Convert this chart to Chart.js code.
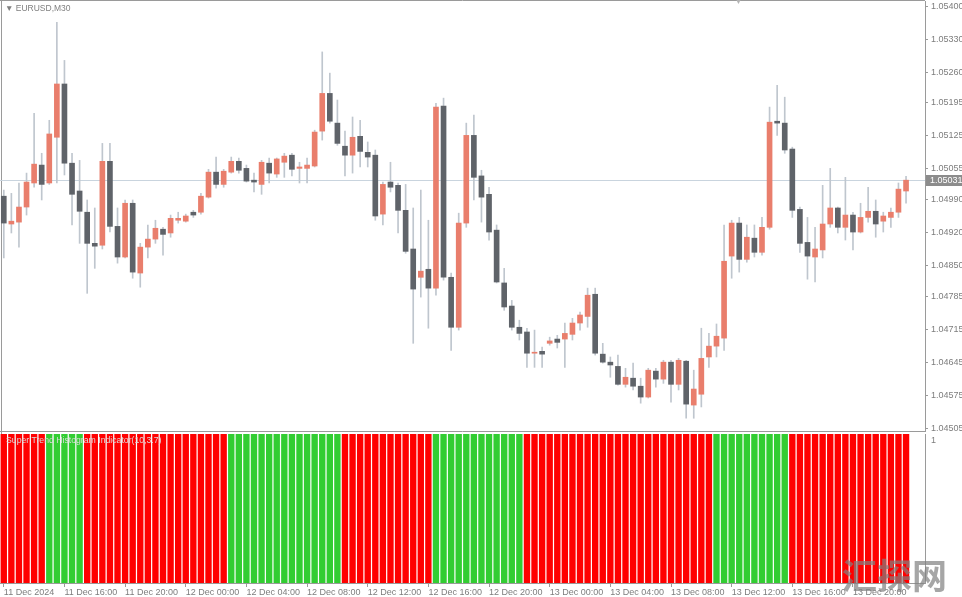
<!DOCTYPE html>
<html>
<head>
<meta charset="utf-8">
<script src="https://cdn.jsdelivr.net/npm/chart.js@4.4.1/dist/chart.umd.min.js"></script>
<style>
  html, body { margin: 0; padding: 0; background: #fff; }
  #wrap { position: relative; width: 962px; height: 597px; overflow: hidden; background: #fff; }
  #main { position: absolute; left: 0; top: 0; }
  #sub { position: absolute; left: 0; top: 432px; }
  .txt { position: absolute; font-family: "Liberation Sans", Arial, sans-serif; white-space: nowrap; line-height: 1; }
  #symbol { left: 5px; top: 4px; font-size: 8.5px; color: #7f7f7f; }
  #shift { left: 735px; top: -2px; font-size: 7px; color: #b4b4b4; }
  #indname { left: 6px; top: 436px; font-size: 8.7px; color: #dcdcdc; }
  #mark { left: 842px; top: 556px; font-family: "Noto Sans CJK SC", sans-serif; font-weight: bold; font-size: 35px; color: rgba(128,128,128,0.7); }
</style>
</head>
<body>
<div id="wrap">
  <canvas id="main" width="962" height="432"></canvas>
  <canvas id="sub" width="962" height="165"></canvas>
  <div class="txt" id="symbol">▼ EURUSD,M30</div>
  <div class="txt" id="shift">▼</div>
  <div class="txt" id="indname">Super Trend Histogram Indicator(10,3.7)</div>
  <div class="txt" id="mark">汇探网</div>
</div>
<script>
// EURUSD M30, 11 Dec 12:00 .. 13 Dec 23:30
const priceTicks = [1.05400, 1.05330, 1.05260, 1.05195, 1.05125, 1.05055, 1.04990,
  1.04920, 1.04850, 1.04785, 1.04715, 1.04645, 1.04575, 1.04505];

const timeLabels = ['11 Dec 2024', '11 Dec 16:00', '11 Dec 20:00', '12 Dec 00:00',
  '12 Dec 04:00', '12 Dec 08:00', '12 Dec 12:00', '12 Dec 16:00', '12 Dec 20:00',
  '13 Dec 00:00', '13 Dec 04:00', '13 Dec 08:00', '13 Dec 12:00', '13 Dec 16:00', '13 Dec 20:00'];

const open = [
  1.04997, 1.04938, 1.04942, 1.04974, 1.05025, 1.05063, 1.05025, 1.05122, 1.05235, 1.05067,
  1.05008, 1.04963, 1.04897, 1.04893, 1.05071, 1.04933, 1.04868, 1.04982, 1.04834, 1.04889,
  1.04906, 1.04927, 1.04919, 1.04946, 1.04944, 1.04963, 1.04963, 1.04995, 1.05048, 1.05022,
  1.05048, 1.05071, 1.05056, 1.05031, 1.05022, 1.05067, 1.05044, 1.05069, 1.05084, 1.05056,
  1.05056, 1.05061, 1.05135, 1.05215, 1.05152, 1.05103, 1.05084, 1.05124, 1.05090, 1.05084,
  1.04959, 1.05027, 1.05020, 1.04967, 1.04885, 1.04825, 1.04842, 1.04802, 1.05188, 1.04825,
  1.04719, 1.04940, 1.05126, 1.05040, 1.05001, 1.04925, 1.04813, 1.04764, 1.04719, 1.04709,
  1.04664, 1.04668, 1.04685, 1.04694, 1.04694, 1.04704, 1.04728, 1.04742, 1.04789, 1.04662,
  1.04645, 1.04636, 1.04598, 1.04611, 1.04594, 1.04571, 1.04626, 1.04609, 1.04645, 1.04598,
  1.04647, 1.04554, 1.04577, 1.04656, 1.04679, 1.04696, 1.04870, 1.04940, 1.04863, 1.04908,
  1.04878, 1.04931, 1.05156, 1.05152, 1.05097, 1.04969, 1.04899, 1.04868, 1.04883, 1.04938,
  1.04972, 1.04931, 1.04957, 1.04921, 1.04952, 1.04965, 1.04944, 1.04952, 1.04963, 1.05008
];
const high = [
  1.05010, 1.05003, 1.05025, 1.05046, 1.05173, 1.05088, 1.05158, 1.05366, 1.05285, 1.05088,
  1.05073, 1.04989, 1.04972, 1.05109, 1.05109, 1.04972, 1.04989, 1.04989, 1.04897, 1.04936,
  1.04946, 1.04931, 1.04957, 1.04963, 1.04959, 1.04967, 1.05003, 1.05054, 1.05080, 1.05054,
  1.05080, 1.05078, 1.05063, 1.05046, 1.05073, 1.05078, 1.05078, 1.05088, 1.05088, 1.05069,
  1.05078, 1.05137, 1.05303, 1.05258, 1.05201, 1.05135, 1.05165, 1.05158, 1.05112, 1.05095,
  1.05027, 1.05069, 1.05025, 1.05022, 1.04972, 1.05010, 1.04946, 1.05194, 1.05205, 1.04834,
  1.04961, 1.05152, 1.05169, 1.05052, 1.05016, 1.04936, 1.04844, 1.04776, 1.04734, 1.04717,
  1.04713, 1.04677, 1.04698, 1.04702, 1.04728, 1.04738, 1.04751, 1.04802, 1.04802, 1.04685,
  1.04656, 1.04660, 1.04632, 1.04643, 1.04611, 1.04632, 1.04632, 1.04649, 1.04649, 1.04653,
  1.04649, 1.04628, 1.04717, 1.04706, 1.04726, 1.04936, 1.04946, 1.04952, 1.04936, 1.04936,
  1.04952, 1.05186, 1.05232, 1.05207, 1.05101, 1.04974, 1.04952, 1.04931, 1.05020, 1.05056,
  1.04974, 1.05037, 1.04963, 1.04982, 1.05016, 1.04989, 1.04963, 1.04972, 1.05025, 1.05039
];
const low = [
  1.04866, 1.04919, 1.04889, 1.04957, 1.05016, 1.04989, 1.05022, 1.05025, 1.05042, 1.04936,
  1.04897, 1.04791, 1.04844, 1.04885, 1.04921, 1.04855, 1.04866, 1.04823, 1.04804, 1.04866,
  1.04897, 1.04872, 1.04910, 1.04940, 1.04942, 1.04952, 1.04959, 1.04993, 1.05014, 1.05016,
  1.05046, 1.05046, 1.05027, 1.05006, 1.05001, 1.05025, 1.05037, 1.05037, 1.05040, 1.05025,
  1.05025, 1.05059, 1.05116, 1.05152, 1.05105, 1.05040, 1.05046, 1.05059, 1.05059, 1.04946,
  1.04936, 1.05006, 1.04919, 1.04876, 1.04685, 1.04783, 1.04717, 1.04787, 1.04819, 1.04670,
  1.04713, 1.04931, 1.04989, 1.04942, 1.04904, 1.04813, 1.04755, 1.04713, 1.04692, 1.04634,
  1.04634, 1.04634, 1.04681, 1.04675, 1.04634, 1.04692, 1.04713, 1.04719, 1.04660, 1.04643,
  1.04613, 1.04596, 1.04592, 1.04586, 1.04558, 1.04569, 1.04592, 1.04600, 1.04560, 1.04586,
  1.04526, 1.04526, 1.04550, 1.04634, 1.04656, 1.04670, 1.04823, 1.04836, 1.04857, 1.04868,
  1.04872, 1.04927, 1.05126, 1.05088, 1.04952, 1.04878, 1.04821, 1.04815, 1.04866, 1.04931,
  1.04919, 1.04904, 1.04883, 1.04919, 1.04942, 1.04910, 1.04921, 1.04931, 1.04952, 1.04982
];
const close = [
  1.04940, 1.04944, 1.04974, 1.05027, 1.05065, 1.05022, 1.05129, 1.05235, 1.05067, 1.05001,
  1.04965, 1.04897, 1.04891, 1.05071, 1.04933, 1.04868, 1.04982, 1.04836, 1.04889, 1.04906,
  1.04929, 1.04916, 1.04950, 1.04950, 1.04955, 1.04957, 1.04997, 1.05048, 1.05022, 1.05050,
  1.05071, 1.05052, 1.05029, 1.05027, 1.05069, 1.05046, 1.05076, 1.05082, 1.05054, 1.05059,
  1.05063, 1.05133, 1.05215, 1.05156, 1.05109, 1.05084, 1.05122, 1.05092, 1.05080, 1.04955,
  1.05022, 1.05016, 1.04967, 1.04880, 1.04800, 1.04838, 1.04802, 1.05186, 1.04825, 1.04719,
  1.04940, 1.05126, 1.05037, 1.04995, 1.04921, 1.04815, 1.04762, 1.04719, 1.04706, 1.04664,
  1.04666, 1.04662, 1.04690, 1.04687, 1.04706, 1.04728, 1.04745, 1.04787, 1.04664, 1.04645,
  1.04639, 1.04598, 1.04613, 1.04594, 1.04571, 1.04628, 1.04609, 1.04645, 1.04598, 1.04649,
  1.04556, 1.04588, 1.04653, 1.04679, 1.04700, 1.04859, 1.04940, 1.04863, 1.04910, 1.04878,
  1.04931, 1.05154, 1.05152, 1.05095, 1.04967, 1.04897, 1.04870, 1.04885, 1.04938, 1.04972,
  1.04931, 1.04957, 1.04921, 1.04952, 1.04965, 1.04938, 1.04955, 1.04963, 1.05012, 1.05031
];

// super trend direction per bar: 1 = up (green), -1 = down (red)
const trend = [
  -1, -1, -1, -1, -1, -1, 1, 1, 1, 1,
  1, -1, -1, -1, -1, -1, -1, -1, -1, -1,
  -1, -1, -1, -1, -1, -1, -1, -1, -1, -1,
  1, 1, 1, 1, 1, 1, 1, 1, 1, 1,
  1, 1, 1, 1, 1, -1, -1, -1, -1, -1,
  -1, -1, -1, -1, -1, -1, -1, 1, 1, 1,
  1, 1, 1, 1, 1, 1, 1, 1, 1, -1,
  -1, -1, -1, -1, -1, -1, -1, -1, -1, -1,
  -1, -1, -1, -1, -1, -1, -1, -1, -1, -1,
  -1, -1, -1, -1, 1, 1, 1, 1, 1, 1,
  1, 1, 1, 1, -1, -1, -1, -1, -1, -1,
  -1, -1, -1, -1, -1, -1, -1, -1, -1, -1
];

const upColor = '#e97e6c';
const downColor = '#5f6369';
const wickColor = '#bfc6ce';
const frameColor = '#9a9a9a';
const textColor = '#7d7d7d';
const axisFont = { family: 'Liberation Sans', size: 9 };

// two empty slots on the right = MT4 chart shift
const slots = Array.from({ length: open.length + 2 }, (_, i) => i);
const lastClose = close[close.length - 1];

// keep the axis from padding the plot area for its end labels
function fixWidth(s) {
  s.width = 37;
  s.paddingTop = 0;
  s.paddingBottom = 0;
}

const mainFrame = {
  id: 'mainFrame',
  beforeDatasetsDraw(chart) {
    const { ctx, chartArea: a, scales: { y } } = chart;
    ctx.save();
    ctx.strokeStyle = frameColor;
    ctx.lineWidth = 1;
    ctx.beginPath();
    ctx.moveTo(0, 0.5); ctx.lineTo(a.right, 0.5);
    ctx.moveTo(1.5, 0); ctx.lineTo(1.5, chart.height);
    ctx.moveTo(0, chart.height - 0.5); ctx.lineTo(a.right, chart.height - 0.5);
    ctx.stroke();
    const py = Math.round(y.getPixelForValue(lastClose)) + 0.5;
    ctx.strokeStyle = '#c9d4de';
    ctx.beginPath();
    ctx.moveTo(0, py); ctx.lineTo(a.right, py);
    ctx.stroke();
    ctx.restore();
  },
  afterDraw(chart) {
    const { ctx, chartArea: a, scales: { y } } = chart;
    const py = Math.round(y.getPixelForValue(lastClose));
    ctx.save();
    ctx.fillStyle = '#8c8c8c';
    ctx.fillRect(a.right + 1, py - 5, chart.width - a.right - 1, 11);
    ctx.fillStyle = '#ffffff';
    ctx.font = '9px "Liberation Sans"';
    ctx.textBaseline = 'middle';
    ctx.fillText(lastClose.toFixed(5), a.right + 5, py + 0.5);
    ctx.restore();
  }
};

new Chart(document.getElementById('main'), {
  type: 'bar',
  data: {
    labels: slots,
    datasets: [
      {
        data: low.map((l, i) => [l, high[i]]),
        backgroundColor: wickColor,
        barThickness: 1,
        grouped: false,
        order: 2
      },
      {
        data: open.map((o, i) => [o, close[i]]),
        backgroundColor: open.map((o, i) => close[i] >= o ? upColor : downColor),
        barThickness: 5,
        minBarLength: 1,
        grouped: false,
        order: 1
      }
    ]
  },
  options: {
    responsive: false,
    animation: false,
    devicePixelRatio: 1,
    layout: { padding: { top: 1, bottom: 1, left: 0, right: 0 } },
    plugins: { legend: { display: false }, tooltip: { enabled: false } },
    scales: {
      x: { display: false, offset: true },
      y: {
        position: 'right',
        min: 1.04499,
        max: 1.05411,
        afterBuildTicks: s => { s.ticks = priceTicks.map(v => ({ value: v })); },
        afterFit: fixWidth,
        ticks: { autoSkip: false, padding: 3, color: textColor, font: axisFont, callback: v => v.toFixed(5) },
        grid: { drawOnChartArea: false, tickLength: 3, color: frameColor },
        border: { color: frameColor }
      }
    }
  },
  plugins: [mainFrame]
});

const subFrame = {
  id: 'subFrame',
  beforeDatasetsDraw(chart) {
    const { ctx, chartArea: a } = chart;
    ctx.save();
    ctx.strokeStyle = frameColor;
    ctx.beginPath();
    ctx.moveTo(1.5, 0); ctx.lineTo(1.5, a.bottom);
    ctx.stroke();
    ctx.restore();
  }
};

new Chart(document.getElementById('sub'), {
  type: 'bar',
  data: {
    labels: slots,
    datasets: [{
      data: trend.map(v => Math.abs(v)),
      backgroundColor: trend.map(v => v > 0 ? '#32cd32' : '#ff0000'),
      barPercentage: 0.84,
      categoryPercentage: 1
    }]
  },
  options: {
    responsive: false,
    animation: false,
    devicePixelRatio: 1,
    layout: { padding: { top: 2, bottom: 0, left: 0, right: 0 } },
    plugins: { legend: { display: false }, tooltip: { enabled: false } },
    scales: {
      x: {
        offset: true,
        afterBuildTicks: s => {
          s.ticks = s.ticks.filter(t => t.value % 8 === 0 && t.value / 8 < timeLabels.length);
        },
        afterFit: s => { s.height = 14; s.paddingLeft = 0; s.paddingRight = 0; },
        ticks: {
          autoSkip: false, maxRotation: 0, align: 'start', padding: 0,
          color: textColor, font: axisFont,
          callback: v => timeLabels[v / 8]
        },
        grid: { drawOnChartArea: false, offset: false, tickLength: 4, color: frameColor },
        border: { color: frameColor }
      },
      y: {
        position: 'right',
        min: 0,
        max: 1,
        afterBuildTicks: s => { s.ticks = [{ value: 1 }]; },
        afterFit: fixWidth,
        ticks: { padding: 3, labelOffset: 7, color: textColor, font: axisFont, callback: () => '1' },
        grid: { drawOnChartArea: false, tickLength: 3, tickColor: 'rgba(0,0,0,0)' },
        border: { color: frameColor }
      }
    }
  },
  plugins: [subFrame]
});
</script>
</body>
</html>
